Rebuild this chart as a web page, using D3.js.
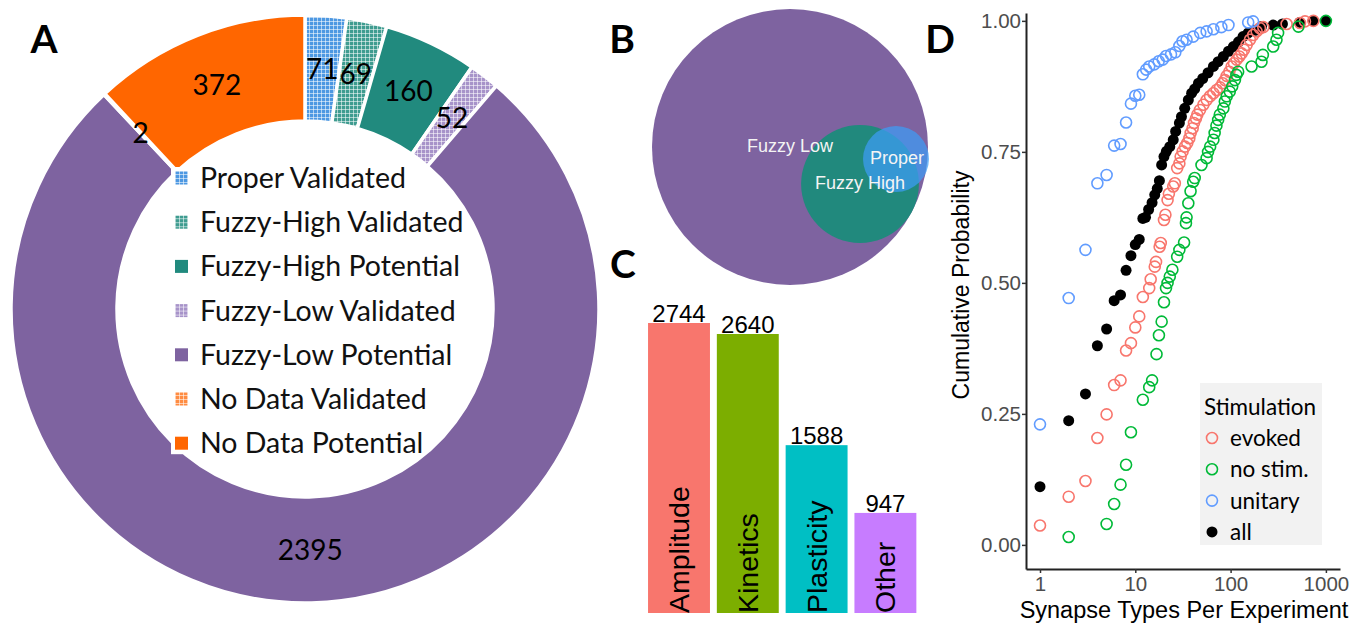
<!DOCTYPE html>
<html>
<head>
<meta charset="utf-8">
<script src="https://cdn.jsdelivr.net/npm/d3@7"></script>
<style>
  body { margin: 0; background: #fff; }
  svg { display: block; }
</style>
</head>
<body>
<div id="figure"></div>
<script>
// ---- Panel A: donut of synapse classes
const donutCategories = ["Proper Validated", "Fuzzy-High Validated", "Fuzzy-High Potential",
  "Fuzzy-Low Validated", "Fuzzy-Low Potential", "No Data Validated", "No Data Potential"];
const donutValues = [71, 69, 160, 52, 2395, 2, 372];

// ---- Panel B: venn sets
const vennSets = ["Fuzzy Low", "Fuzzy High", "Proper"];
const vennSizes = [2800, 510, 160];

// ---- Panel C: bar chart
const barCategories = ["Amplitude", "Kinetics", "Plasticity", "Other"];
const barValues = [2744, 2640, 1588, 947];

// ---- Panel D: cumulative probability per stimulation
const stimGroups = ["evoked", "no stim.", "unitary", "all"];
const evokedX = [1, 2, 3, 4, 5, 6, 7, 8, 9, 10, 11, 12, 14, 14.5, 16, 16.5, 18, 18.5, 20, 20.7, 21.8, 22.5, 25, 26, 27.5, 29, 29.9, 31.4, 33.2, 35.1, 36.9, 38.1, 40, 41.3, 43.3, 44.7, 47.7, 51.8, 56.1, 60.8, 65.9, 71.4, 77.4, 82.6, 87.3, 91, 97, 102.6, 108.6, 115.8, 123.5, 130.7, 138.1, 147.3, 159.6, 172.9, 187.5, 203.2, 220.3, 387, 535, 603, 739];
const evokedP = [0.037, 0.092, 0.122, 0.204, 0.249, 0.305, 0.314, 0.371, 0.385, 0.415, 0.436, 0.473, 0.49, 0.507, 0.531, 0.54, 0.569, 0.576, 0.62, 0.63, 0.658, 0.67, 0.684, 0.69, 0.719, 0.728, 0.741, 0.751, 0.76, 0.767, 0.776, 0.786, 0.795, 0.805, 0.814, 0.821, 0.83, 0.84, 0.849, 0.856, 0.862, 0.868, 0.873, 0.881, 0.887, 0.895, 0.903, 0.913, 0.919, 0.926, 0.932, 0.938, 0.945, 0.954, 0.964, 0.973, 0.98, 0.986, 0.988, 0.994, 0.996, 0.999, 1.0];
const noStimX = [2, 5, 6, 7, 8, 9, 12, 14, 15, 16.7, 17.7, 18.9, 20, 21, 21.8, 23, 24.5, 27.5, 29, 32.5, 34, 34.5, 36, 38, 40.5, 42, 49.5, 56, 58, 61, 66, 68, 71, 74, 77, 84, 87, 91, 98, 104, 111, 115, 120, 166, 211, 218, 280, 303, 315, 515, 1000];
const noStimP = [0.015, 0.04, 0.078, 0.115, 0.153, 0.215, 0.277, 0.301, 0.314, 0.364, 0.40, 0.426, 0.463, 0.49, 0.50, 0.512, 0.525, 0.55, 0.563, 0.577, 0.614, 0.625, 0.652, 0.675, 0.693, 0.70, 0.725, 0.738, 0.75, 0.76, 0.773, 0.786, 0.80, 0.811, 0.821, 0.833, 0.846, 0.856, 0.865, 0.875, 0.887, 0.897, 0.903, 0.913, 0.922, 0.935, 0.951, 0.964, 0.977, 0.989, 1.0];
const unitaryX = [1, 2, 3, 4, 5, 6, 7, 8, 9, 10, 11, 12, 13, 14, 15.8, 17.6, 19.4, 21, 23.7, 26.3, 29, 31.3, 34.5, 40.5, 48, 56, 66, 80, 95, 153, 172];
const unitaryP = [0.23, 0.471, 0.563, 0.69, 0.706, 0.762, 0.765, 0.806, 0.842, 0.857, 0.859, 0.898, 0.907, 0.913, 0.917, 0.923, 0.926, 0.933, 0.936, 0.94, 0.952, 0.961, 0.964, 0.97, 0.977, 0.98, 0.984, 0.988, 0.992, 0.997, 0.999];
const allX = [1, 2, 3, 4, 5, 6, 7, 8, 9, 10, 11, 12, 12.8, 13.8, 15, 16, 17, 17.9, 18.9, 20, 21.2, 23, 25, 26.5, 29, 30.5, 33, 36, 39, 42, 46, 51, 58, 66, 74, 84, 95, 107, 121, 135, 153, 181, 211, 280, 350, 530, 735, 1000];
const allP = [0.111, 0.237, 0.288, 0.38, 0.412, 0.466, 0.477, 0.524, 0.552, 0.573, 0.583, 0.623, 0.625, 0.64, 0.653, 0.668, 0.68, 0.695, 0.725, 0.741, 0.751, 0.76, 0.773, 0.789, 0.805, 0.817, 0.833, 0.849, 0.862, 0.87, 0.881, 0.89, 0.901, 0.913, 0.922, 0.932, 0.942, 0.951, 0.96, 0.97, 0.977, 0.982, 0.989, 0.992, 0.994, 0.997, 1.0, 1.0];
const xTicks = [1, 10, 100, 1000];
const yTicks = [0, 0.25, 0.5, 0.75, 1];

const W = 1366, H = 627;
const calibri = "Lato, 'Open Sans', sans-serif";
const arial = "'Liberation Sans', Arial, sans-serif";

const svg = d3.select("#figure").append("svg")
  .attr("width", W)
  .attr("height", H)
  .style("background", "#fff");

// hatched fills for the "Validated" slices
const defs = svg.append("defs");
const patternBase = { pv: "#4d98e2", fhv: "#3f9c90", flv: "#a793c9", ndv: "#ff8c42" };
Object.entries(patternBase).forEach(([id, c]) => {
  const p = defs.append("pattern")
    .attr("id", "hatch-" + id)
    .attr("patternUnits", "userSpaceOnUse")
    .attr("width", 4).attr("height", 4);
  p.append("rect").attr("width", 4).attr("height", 4).attr("fill", c);
  p.append("path")
    .attr("d", "M0,0.5H4M0.5,0V4")
    .attr("stroke", "#fff")
    .attr("stroke-opacity", 0.55)
    .attr("stroke-width", 1);
});

const donutFill = ["url(#hatch-pv)", "url(#hatch-fhv)", "#218a7e", "url(#hatch-flv)", "#7e63a0", "url(#hatch-ndv)", "#ff6600"];

// Panel letters
[["A", 44, 53], ["B", 622, 53], ["C", 623, 278], ["D", 940, 53]].forEach(([t, x, y]) => {
  svg.append("text")
    .attr("x", x).attr("y", y)
    .attr("text-anchor", "middle")
    .style("font-family", calibri)
    .style("font-weight", "bold")
    .style("font-size", "39px")
    .text(t);
});

// ================= Panel A =================
const donut = svg.append("g").attr("transform", "translate(305,309)");
const pie = d3.pie().sort(null).value(d => d);
const arc = d3.arc().innerRadius(188).outerRadius(294);
const arcs = pie(donutValues);

donut.selectAll("path")
  .data(arcs)
  .enter().append("path")
  .attr("d", arc)
  .attr("fill", (d, i) => donutFill[i])
  .attr("stroke", "#fff")
  .attr("stroke-width", 3.5);

donut.selectAll("text.val")
  .data(arcs)
  .enter().append("text")
  .attr("class", "val")
  .attr("transform", d => `translate(${arc.centroid(d)})`)
  .attr("dy", "0.36em")
  .attr("text-anchor", "middle")
  .style("font-family", calibri)
  .style("font-size", "28px")
  .text(d => d.data);

// legend inside the hole
const legA = svg.append("g").attr("transform", "translate(175,178)");
const legRow = 44.2;
donutCategories.forEach((c, i) => {
  const g = legA.append("g").attr("transform", `translate(0,${i * legRow})`);
  g.append("rect")
    .attr("x", -4).attr("y", -11).attr("width", 21).attr("height", 22)
    .attr("fill", "#fff");
  g.append("rect")
    .attr("x", 0).attr("y", -6.5).attr("width", 13).attr("height", 13)
    .attr("fill", donutFill[i]);
  g.append("text")
    .attr("x", 25).attr("y", 10)
    .style("font-family", calibri)
    .style("font-size", "28.5px")
    .style("fill", "#111")
    .text(c);
});

// ================= Panel B =================
const rScale = d3.scaleSqrt().domain([0, d3.max(vennSizes)]).range([0, 138]);
const vennCentres = [[790, 147], [860, 184], [896, 159]];
const vennFill = ["#7e63a0", "#21897d", "#3d9cf5"];
const vennOpacity = [1, 1, 0.72];
const venn = svg.append("g");
vennSets.forEach((s, i) => {
  venn.append("circle")
    .attr("cx", vennCentres[i][0]).attr("cy", vennCentres[i][1])
    .attr("r", rScale(vennSizes[i]))
    .attr("fill", vennFill[i])
    .attr("fill-opacity", vennOpacity[i]);
});
const vennLabelPos = [[790, 146], [860, 183], [897, 158]];
vennSets.forEach((s, i) => {
  venn.append("text")
    .attr("x", vennLabelPos[i][0]).attr("y", vennLabelPos[i][1])
    .attr("dy", "0.35em")
    .attr("text-anchor", "middle")
    .style("font-family", arial)
    .style("font-size", "18px")
    .style("fill", "#f4f4f4")
    .text(s);
});

// ================= Panel C =================
const xBar = d3.scaleBand().domain(barCategories).range([644.6, 919.8]).paddingInner(0.1).paddingOuter(0.05);
const yBar = d3.scaleLinear().domain([0, 2744]).range([613, 323]);
const barColors = ["#f8766d", "#7cae00", "#00bfc4", "#c77cff"];
const bars = svg.append("g");
bars.selectAll("rect")
  .data(barValues)
  .enter().append("rect")
  .attr("x", (d, i) => xBar(barCategories[i]))
  .attr("y", d => yBar(d))
  .attr("width", xBar.bandwidth())
  .attr("height", d => yBar(0) - yBar(d))
  .attr("fill", (d, i) => barColors[i]);

bars.selectAll("text.num")
  .data(barValues)
  .enter().append("text")
  .attr("class", "num")
  .attr("x", (d, i) => xBar(barCategories[i]) + xBar.bandwidth() / 2)
  .attr("y", d => yBar(d) - 1)
  .attr("text-anchor", "middle")
  .style("font-family", arial)
  .style("font-size", "24px")
  .text(d => d);

bars.selectAll("text.cat")
  .data(barCategories)
  .enter().append("text")
  .attr("class", "cat")
  .attr("transform", d => `translate(${xBar(d) + xBar.bandwidth() / 2},${yBar(0)}) rotate(-90)`)
  .attr("dy", "0.35em")
  .style("font-family", arial)
  .style("font-size", "28.5px")
  .text(d => d);

// ================= Panel D =================
const x = d3.scaleLog().domain([0.713, 1406]).range([1026, 1340]);
const y = d3.scaleLinear().domain([-0.046, 1.015]).range([569, 13]);
const gD = svg.append("g");

const yAxis = gD.append("g")
  .attr("transform", "translate(1026,0)")
  .call(d3.axisLeft(y).tickValues(yTicks).tickFormat(d3.format(".2f")).tickSize(4).tickSizeOuter(0).tickPadding(1));
const xAxis = gD.append("g")
  .attr("transform", "translate(0,569)")
  .call(d3.axisBottom(x).tickValues(xTicks).tickFormat(d => d).tickSize(4).tickSizeOuter(0).tickPadding(3));
[yAxis, xAxis].forEach(ax => {
  ax.select(".domain").attr("stroke", "#222").attr("stroke-width", 2);
  ax.selectAll(".tick line").attr("stroke", "#333").attr("stroke-width", 1.5);
  ax.selectAll("text")
    .style("font-family", arial)
    .style("font-size", "20.5px")
    .style("fill", "#4d4d4d");
});

const series = [
  { xs: allX, ps: allP, color: "#000", filled: true },
  { xs: evokedX, ps: evokedP, color: "#f8766d", filled: false },
  { xs: noStimX, ps: noStimP, color: "#00ba38", filled: false },
  { xs: unitaryX, ps: unitaryP, color: "#619cff", filled: false }
];
series.forEach(s => {
  gD.append("g").selectAll("circle")
    .data(s.xs.map((v, i) => [v, s.ps[i]]))
    .enter().append("circle")
    .attr("cx", d => x(d[0]))
    .attr("cy", d => y(d[1]))
    .attr("r", 5.5)
    .attr("fill", s.filled ? s.color : "none")
    .attr("stroke", s.color)
    .attr("stroke-width", s.filled ? 0 : 1.6);
});

// axis titles
gD.append("text")
  .attr("x", 1184).attr("y", 618)
  .attr("text-anchor", "middle")
  .style("font-family", arial)
  .style("font-size", "23.5px")
  .text("Synapse Types Per Experiment");
gD.append("text")
  .attr("transform", "translate(969,285) rotate(-90)")
  .attr("text-anchor", "middle")
  .style("font-family", arial)
  .style("font-size", "23px")
  .text("Cumulative Probability");

// legend
const legD = gD.append("g");
legD.append("rect")
  .attr("x", 1200).attr("y", 383).attr("width", 122).attr("height", 162)
  .attr("fill", "#f2f2f2");
legD.append("text")
  .attr("x", 1204).attr("y", 415)
  .style("font-family", calibri)
  .style("font-size", "22.5px")
  .text("Stimulation");
const legColors = ["#f8766d", "#00ba38", "#619cff", "#000"];
stimGroups.forEach((s, i) => {
  const cy = 438 + i * 31.3;
  legD.append("circle")
    .attr("cx", 1212).attr("cy", cy).attr("r", 5.5)
    .attr("fill", i === 3 ? "#000" : "none")
    .attr("stroke", legColors[i])
    .attr("stroke-width", i === 3 ? 0 : 1.6);
  legD.append("text")
    .attr("x", 1230).attr("y", cy + 8)
    .style("font-family", calibri)
    .style("font-size", "22.5px")
    .text(s);
});
</script>
</body>
</html>
